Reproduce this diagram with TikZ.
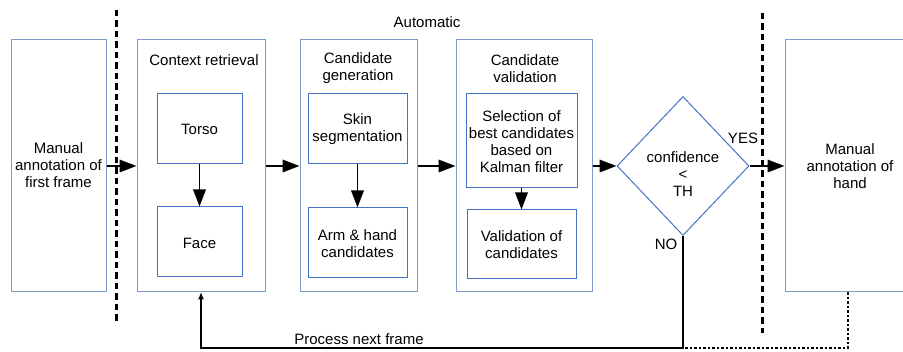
\documentclass[tikz,border=0pt]{standalone}
\usepackage{fontspec}
\setmainfont{Liberation Sans}
\usetikzlibrary{shapes.geometric,arrows.meta}
\definecolor{outerblue}{HTML}{7D9BCF}
\definecolor{innerblue}{HTML}{4472C4}
\tikzset{
  txt/.style={font=\fontsize{15}{17}\selectfont, align=center, inner sep=0pt},
  outerbox/.style={draw=outerblue, line width=1pt, inner sep=0pt},
  innerbox/.style={draw=innerblue, line width=1pt, inner sep=0pt},
  decision/.style={diamond, draw=innerblue, line width=1pt, inner sep=0pt,
    minimum width=132pt, minimum height=139pt},
  flow/.style={line width=1.8pt, -{Triangle[length=17pt,width=12.5pt]}},
  backflow/.style={line width=1.6pt, -{Triangle[length=7pt,width=5pt]}},
  border/.style={line width=3pt, dash pattern=on 6.5pt off 4pt},
  thindots/.style={line width=1.2pt, dash pattern=on 2.5pt off 2pt},
}
\begin{document}
\begin{tikzpicture}[x=1pt,y=-1pt]
\useasboundingbox (0,0) rectangle (903,352);
\clip (0,0) rectangle (903,352);

% separators between manual and automatic stages
\coordinate (lt) at (116,10);  \coordinate (lb) at (116,323);
\coordinate (rt) at (762,13);  \coordinate (rb) at (762,333);
\draw[border] (lt) -- (lb);
\draw[border] (rt) -- (rb);
\node[txt] (auto) at (427,22) {Automatic};

% stage boxes
\node[outerbox, minimum width=95pt, minimum height=252pt] (first) at (58.5,166) {};
\node[txt] (firsttxt) at (58.5,165) {Manual\\annotation of\\first frame};

\node[outerbox, minimum width=128pt, minimum height=252pt] (ctx) at (201,166) {};
\node[txt] (ctxtxt) at (204,60) {Context retrieval};
\node[innerbox, minimum width=85pt, minimum height=70pt] (torso) at (199.5,129) {};
\node[txt] (torsotxt) at (199.5,129) {Torso};
\node[innerbox, minimum width=85pt, minimum height=70pt] (face) at (199.5,242) {};
\node[txt] (facetxt) at (199.5,243) {Face};

\node[outerbox, minimum width=117pt, minimum height=252pt] (gen) at (358.5,166) {};
\node[txt] (gentxt) at (358,68.5) {Candidate\\generation};
\node[innerbox, minimum width=99pt, minimum height=70pt] (skin) at (357.5,129) {};
\node[txt] (skintxt) at (357.5,129.5) {Skin\\segmentation};
\node[innerbox, minimum width=99pt, minimum height=70pt] (arm) at (357.5,243) {};
\node[txt] (armtxt) at (357.5,243.5) {Arm \& hand\\candidates};

\node[outerbox, minimum width=136pt, minimum height=252pt] (val) at (524,166) {};
\node[txt] (valtxt) at (525,68.5) {Candidate\\validation};
\node[innerbox, minimum width=111pt, minimum height=94pt] (sel) at (521.5,141) {};
\node[txt] (seltxt) at (521.5,141.5) {Selection of\\best candidates\\based on\\Kalman filter};
\node[innerbox, minimum width=109pt, minimum height=69pt] (check) at (521.5,244.5) {};
\node[txt] (checktxt) at (521.5,245) {Validation of\\candidates};

\node[decision] (dec) at (683,166) {};
\node[txt] (dectxt) at (683,174.5) {confidence\\<\\TH};
\node[txt] (yes) at (743,138) {YES};
\node[txt] (no) at (666,244) {NO};

\node[outerbox, minimum width=130pt, minimum height=252pt] (hand) at (850,166) {};
\node[txt] (handtxt) at (850,166) {Manual\\annotation of\\hand};

% main flow
\draw[flow] (first.east) -- (ctx.west);
\draw[flow] (ctx.east) -- (gen.west);
\draw[flow] (gen.east) -- (val.west);
\draw[flow] (val.east) -- (dec.west);
\draw[flow] (dec.east) -- (hand.west);
\draw[flow] (torso.south) -- (face.north);
\draw[flow] (skin.south) -- (arm.north);
\draw[flow] (sel.south) -- (sel.south |- check.north);

% loop back to the next frame
\coordinate (loopr) at (683,348);
\coordinate (loopl) at (201,348);
\draw[backflow] (dec.south) -- (loopr) -- (loopl) -- (ctx.south);
\node[txt] (next) at (359,339) {Process next frame};
\coordinate (handdrop) at (848,348);
\draw[thindots] (hand.south -| handdrop) -- (handdrop) -- (loopr);
\end{tikzpicture}
\end{document}
